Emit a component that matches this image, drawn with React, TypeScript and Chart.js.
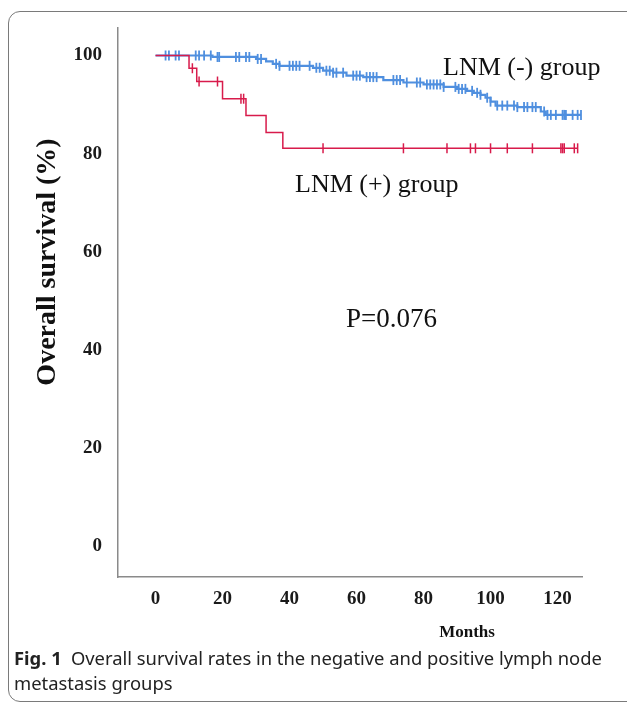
import React, { useEffect, useRef } from "react";
import { Chart, registerables } from "chart.js";
Chart.register(...registerables);

const X_TICKS = [0, 20, 40, 60, 80, 100, 120];
const Y_TICKS = [0, 20, 40, 60, 80, 100];

const NEG_STEP_MONTHS = [0, 17, 30, 33, 35, 37, 47, 50, 53, 57, 62, 68, 74, 80, 86, 90, 93, 95, 97, 98.5, 100, 101.5, 108, 115, 116.5, 127];
const NEG_STEP_SURVIVAL = [100, 99.7, 99.3, 98.8, 98.3, 97.9, 97.5, 96.9, 96.5, 95.9, 95.6, 95.0, 94.5, 94.1, 93.6, 93.2, 92.8, 92.4, 92.0, 91.4, 90.6, 89.8, 89.5, 88.6, 87.9, 87.9];
const NEG_CENSOR_MONTHS = [3, 4, 6, 7, 12, 13, 14.5, 16.5, 18.5, 19, 24, 25, 27, 28, 30.5, 31.5, 36, 37, 40, 41, 42, 43, 46, 48, 49, 51, 52, 53, 54, 56, 59, 60, 61, 63, 64, 65, 66, 71, 72, 73, 75, 78, 79, 81, 82, 83, 84, 85, 86, 89.5, 90.5, 91.5, 92.5, 94.5, 96, 97, 99, 100, 102, 103.5, 105, 107, 108, 110, 111, 112.5, 113.5, 116, 117, 118, 119.5, 121.5, 122, 122.5, 124.5, 126, 127];

const POS_STEP_MONTHS = [0, 10, 12.3, 20, 27, 33, 38, 126];
const POS_STEP_SURVIVAL = [100, 97.4, 94.7, 91.2, 87.8, 84.3, 81.1, 81.1];
const POS_CENSOR_MONTHS = [11, 13, 18.5, 25.5, 26.3, 50, 74, 87, 94, 95.5, 100, 105, 112.5, 121, 121.5, 122, 125, 126];

const BLUE = "#4f8fdf";
const RED = "#d81b4b";

function survivalAt(months: number[], surv: number[], t: number) {
  let v = surv[0];
  for (let i = 0; i < months.length; i++) if (months[i] <= t) v = surv[i];
  return v;
}

const textPlugin = {
  id: "texts",
  afterDraw(chart: any) {
    const ctx = chart.ctx;
    ctx.save();
    ctx.fillStyle = "#111";
    ctx.textBaseline = "alphabetic";
    ctx.textAlign = "left";
    ctx.font = "26px 'Liberation Serif'";
    ctx.fillText("LNM (-) group", 443, 75);
    ctx.fillText("LNM (+) group", 295, 192);
    ctx.font = "27px 'Liberation Serif'";
    ctx.fillText("P=0.076", 346, 327);
    ctx.font = "bold 17px 'Liberation Serif'";
    ctx.textAlign = "center";
    ctx.textBaseline = "middle";
    ctx.fillText("Months", 467, 633);
    ctx.translate(48, 262);
    ctx.rotate(-Math.PI / 2);
    ctx.font = "bold 28px 'Liberation Serif'";
    ctx.fillText("Overall survival (%)", 0, 0);
    ctx.restore();
  },
};

export default function App() {
  const ref = useRef<HTMLCanvasElement>(null);
  useEffect(() => {
    const negLine = NEG_STEP_MONTHS.map((m, i) => ({ x: m, y: NEG_STEP_SURVIVAL[i] }));
    const posLine = POS_STEP_MONTHS.map((m, i) => ({ x: m, y: POS_STEP_SURVIVAL[i] }));
    const negCens = NEG_CENSOR_MONTHS.map((m) => ({ x: m, y: survivalAt(NEG_STEP_MONTHS, NEG_STEP_SURVIVAL, m) }));
    const posCens = POS_CENSOR_MONTHS.map((m) => ({ x: m, y: survivalAt(POS_STEP_MONTHS, POS_STEP_SURVIVAL, m) }));
    const chart = new Chart(ref.current!, {
      type: "scatter",
      data: {
        datasets: [
          { label: "LNM (+) censored", data: posCens, showLine: false, pointStyle: "line", rotation: 90, radius: 5, borderColor: RED, borderWidth: 1.5, backgroundColor: RED } as any,
          { label: "LNM (+)", data: posLine, showLine: true, stepped: "before", pointRadius: 0, borderColor: RED, borderWidth: 1.5, fill: false } as any,
          { label: "LNM (-) censored", data: negCens, showLine: false, pointStyle: "line", rotation: 90, radius: 5, borderColor: BLUE, borderWidth: 1.8, backgroundColor: BLUE } as any,
          { label: "LNM (-)", data: negLine, showLine: true, stepped: "before", pointRadius: 0, borderColor: BLUE, borderWidth: 2.2, fill: false } as any,
        ],
      },
      options: {
        animation: false,
        responsive: false,
        layout: { padding: { left: 18, top: 28, right: 45, bottom: 87 } },
        plugins: { legend: { display: false }, tooltip: { enabled: false } },
        scales: {
          x: {
            type: "linear",
            min: -11.2,
            max: 127.3,
            afterBuildTicks: (s: any) => { s.ticks = X_TICKS.map((v) => ({ value: v })); },
            afterFit: (s: any) => { s.height = 40; },
            grid: { display: false, drawTicks: false },
            border: { display: true, color: "#8a8a8a", width: 1.5 },
            ticks: { padding: 11, color: "#1a1a1a", font: { family: "'Liberation Serif'", weight: "bold", size: 19 } },
          },
          y: {
            type: "linear",
            min: -6.2,
            max: 105.6,
            afterBuildTicks: (s: any) => { s.ticks = Y_TICKS.map((v) => ({ value: v })); },
            afterFit: (s: any) => { s.width = 100; },
            grid: { display: false, drawTicks: false },
            border: { display: true, color: "#8a8a8a", width: 1.5 },
            ticks: { padding: 16, color: "#1a1a1a", font: { family: "'Liberation Serif'", weight: "bold", size: 19 } },
          },
        },
      },
      plugins: [textPlugin],
    });
    return () => chart.destroy();
  }, []);

  return (
    <div style={{ position: "absolute", left: 0, top: 0, width: 627, height: 704, overflow: "hidden", background: "#fff" }}>
      <div style={{ position: "absolute", left: 8, top: 11, width: 680, height: 689, border: "1.5px solid #7a7a7a", borderRadius: 12 }} />
      <canvas ref={ref} width={627} height={704} style={{ position: "absolute", left: 0, top: 0, width: 627, height: 704 }} />
      <div style={{ position: "absolute", left: 14, top: 645, width: 612, fontFamily: "'Noto Sans', sans-serif", fontSize: 18.4, lineHeight: "25px", color: "#222" }}>
        <span style={{ fontWeight: "bold" }}>Fig. 1</span>
        <span>{"\u2002"}Overall survival rates in the negative and positive lymph node metastasis groups</span>
      </div>
    </div>
  );
}
